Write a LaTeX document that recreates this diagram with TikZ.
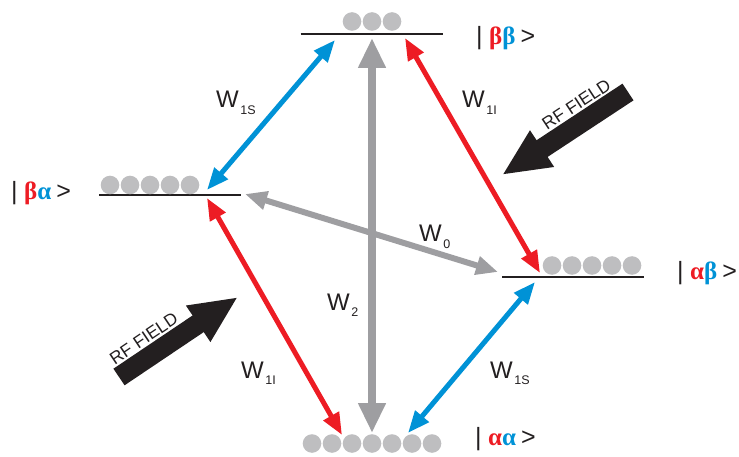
\documentclass[tikz,border=0pt]{standalone}
\usepackage{fontspec}
\setmainfont{Liberation Sans}
\newfontfamily\grkfont{Liberation Serif}
\usetikzlibrary{arrows.meta}
\definecolor{nred}{RGB}{237,28,36}
\definecolor{nblue}{RGB}{0,146,214}
\definecolor{agray}{RGB}{158,158,161}
\definecolor{dgray}{RGB}{190,190,192}
\definecolor{ink}{RGB}{35,31,32}
\newcommand{\ketlbl}[2]{|\hspace{6.5pt}{\grkfont\bfseries\color{nred}#1\color{nblue}#2}\hspace{5pt}>}
\newcommand{\wlbl}[1]{W\hspace{1.5pt}\raisebox{-6.5pt}{\fontsize{12.5}{12.5}\selectfont #1}}
\tikzset{
  lvl/.style={line width=2pt, draw=ink},
  dotc/.style={fill=dgray, draw=none},
  tarr/.style={line width=5pt, {Triangle[length=22pt,width=17pt]}-{Triangle[length=22pt,width=17pt]}},
  redarr/.style={tarr, draw=nred},
  bluearr/.style={tarr, draw=nblue},
  w0arr/.style={line width=6pt, draw=agray, {Triangle[length=22pt,width=18pt]}-{Triangle[length=22pt,width=18pt]}},
  w2arr/.style={line width=8pt, draw=agray, {Triangle[length=30pt,width=26pt]}-{Triangle[length=30pt,width=26pt]}},
  rfarr/.style={line width=20pt, draw=ink, -{Triangle[length=48pt,width=40pt]}},
  rftxt/.style={font=\fontsize{17.5}{17.5}\selectfont, text=ink, inner sep=0pt, anchor=base},
  wtxt/.style={font=\fontsize{24}{24}\selectfont, text=ink, inner sep=0pt, anchor=base west},
  kettxt/.style={font=\fontsize{25}{25}\selectfont, text=ink, inner sep=0pt, anchor=base west}
}
\begin{document}
\begin{tikzpicture}[x=1pt,y=-1pt]
\useasboundingbox (0,0) rectangle (739,457);
% levels
\draw[lvl] (300.5,34) coordinate (bbL) -- (442.5,34) coordinate (bbR);
\draw[lvl] (99,195) coordinate (baL) -- (241,195) coordinate (baR);
\draw[lvl] (502,277) coordinate (abL) -- (644,277) coordinate (abR);
% populations
\foreach \x in {352,372,392} \fill[dotc] (\x,21.5) circle (9.3pt);
\foreach \x in {110,130,150,170,190} \fill[dotc] (\x,185) circle (9.3pt);
\foreach \x in {552,572,592,612,632} \fill[dotc] (\x,265.5) circle (9.3pt);
\foreach \x in {312,332,352,372,392,412,432} \fill[dotc] (\x,443.5) circle (9.3pt);
% ket labels
\node[kettxt] (kbb) at (476,45) {\ketlbl{β}{β}};
\node[kettxt] (kba) at (11,200) {\ketlbl{β}{α}};
\node[kettxt] (kab) at (677,279) {\ketlbl{α}{β}};
\node[kettxt] (kaa) at (475,445) {\ketlbl{α}{α}};
% arrow end points
\coordinate (b1a) at (335,40);   \coordinate (b1b) at (207,190);
\coordinate (g2a) at (372,38);   \coordinate (g2b) at (372,433);
\coordinate (r1a) at (405,38);   \coordinate (r1b) at (540,273);
\coordinate (g0a) at (245,194);  \coordinate (g0b) at (498,272);
\coordinate (r2a) at (207,198);  \coordinate (r2b) at (342,435);
\coordinate (b2a) at (535,282);  \coordinate (b2b) at (408,433);
% transitions
\draw[w0arr] (g0a) -- (g0b);
\draw[w2arr] (g2a) -- (g2b);
\draw[bluearr] (b1a) -- (b1b);
\draw[redarr] (r1a) -- (r1b);
\draw[redarr] (r2a) -- (r2b);
\draw[bluearr] (b2a) -- (b2b);
% transition labels
\node[wtxt] (w1s) at (216,108) {\wlbl{1S}};
\node[wtxt] (w1i) at (462,108) {\wlbl{1I}};
\node[wtxt] (w0) at (419,242) {\wlbl{0}};
\node[wtxt] (w2) at (327,310) {\wlbl{2}};
\node[wtxt] (w1ib) at (241,378) {\wlbl{1I}};
\node[wtxt] (w1sb) at (490,378) {\wlbl{1S}};
% RF field arrows
\coordinate (rf1t) at (628,92);  \coordinate (rf1p) at (502,175);
\coordinate (rf2t) at (119,377); \coordinate (rf2p) at (238,297);
\draw[rfarr] (rf1t) -- (rf1p);
\draw[rfarr] (rf2t) -- (rf2p);
\node[rftxt, rotate=33.4] (rf1) at (579.7,109.5) {RF FIELD};
\node[rftxt, rotate=33.9] (rf2) at (147.2,343.6) {RF FIELD};
\end{tikzpicture}
\end{document}
